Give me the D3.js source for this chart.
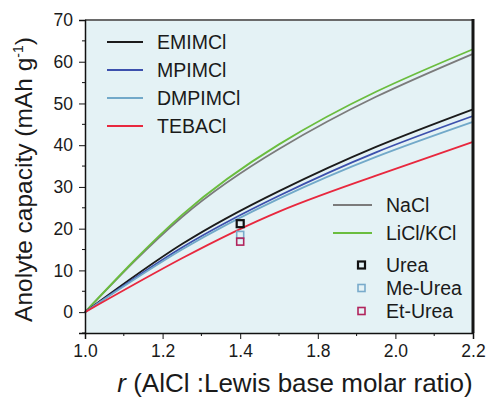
<!DOCTYPE html>
<html>
<head>
<meta charset="utf-8">
<script src="https://cdn.jsdelivr.net/npm/d3@7"></script>
<style>
  body { margin: 0; background: #fff; }
  svg text { font-family: "Liberation Sans", Arial, sans-serif; fill: #1a1a1a; }
</style>
</head>
<body>
<svg id="chart" width="489" height="397"></svg>
<script>
const rValues = [1.0, 1.3, 1.6, 1.9, 2.2];

const emimcl = [0, 16.3, 29.0, 39.6, 48.6];
const mpimcl = [0, 15.5, 27.9, 38.3, 47.0];
const dmpimcl = [0, 15.0, 27.2, 37.2, 45.6];
const tebacl = [0, 12.9, 24.1, 32.7, 40.8];
const nacl = [0, 22.8, 39.1, 51.6, 61.9];
const liclkcl = [0, 23.3, 40.2, 52.8, 63.0];

// single points (urea family), plotted at the "1.4" tick
const pointNames = ['Urea', 'Me-Urea', 'Et-Urea'];
const pointR = [1.48, 1.48, 1.48];
const pointValues = [21.2, 18.5, 16.9];

// tick labels as printed on the original (evenly spaced ticks)
const xTickValues = [1.0, 1.24, 1.48, 1.72, 1.96, 2.2];
const xTickLabels = ['1.0', '1.2', '1.4', '1.8', '2.0', '2.2'];
const yTickValues = [0, 10, 20, 30, 40, 50, 60, 70];

const margin = { left: 85, right: 16, top: 20, bottom: 64 };
const W = 489, H = 397;

const svg = d3.select('#chart');

const x = d3.scaleLinear().domain([1.0, 2.2]).range([margin.left, W - margin.right]);
const y = d3.scaleLinear().domain([-5, 70]).range([H - margin.bottom, margin.top]);

// plot background
svg.append('rect')
  .attr('x', x(1.0)).attr('y', y(70))
  .attr('width', x(2.2) - x(1.0)).attr('height', y(-5) - y(70))
  .attr('fill', '#e4f2f5');

// curves
const series = [
  { name: 'NaCl', values: nacl, color: '#7b7b7b' },
  { name: 'LiCl/KCl', values: liclkcl, color: '#6abd3e' },
  { name: 'EMIMCl', values: emimcl, color: '#1b1b1b' },
  { name: 'MPIMCl', values: mpimcl, color: '#3c50ad' },
  { name: 'DMPIMCl', values: dmpimcl, color: '#72a9c9' },
  { name: 'TEBACl', values: tebacl, color: '#e8283e' }
];

const line = d3.line()
  .x(d => x(d[0]))
  .y(d => y(d[1]))
  .curve(d3.curveNatural);

svg.append('g').selectAll('path')
  .data(series)
  .enter()
  .append('path')
  .attr('d', s => line(rValues.map((r, i) => [r, s.values[i]])))
  .attr('fill', 'none')
  .attr('stroke', s => s.color)
  .attr('stroke-width', 1.8);

// points
const pointColors = ['#111', '#79abcb', '#b1245c'];
const pointWidths = [2.2, 1.6, 1.6];
svg.append('g').selectAll('rect')
  .data(pointNames)
  .enter()
  .append('rect')
  .attr('x', (d, i) => x(pointR[i]) - 3.5)
  .attr('y', (d, i) => y(pointValues[i]) - 3.5)
  .attr('width', 7).attr('height', 7)
  .attr('fill', 'none')
  .attr('stroke', (d, i) => pointColors[i])
  .attr('stroke-width', (d, i) => pointWidths[i]);

// frame: gray top, heavy black right
svg.append('line')
  .attr('x1', x(1.0)).attr('x2', x(2.2))
  .attr('y1', y(70)).attr('y2', y(70))
  .attr('stroke', '#6a6a6a').attr('stroke-width', 2);
svg.append('line')
  .attr('x1', x(2.2)).attr('x2', x(2.2))
  .attr('y1', y(70) - 1).attr('y2', y(-5))
  .attr('stroke', '#151515').attr('stroke-width', 3);

// Y axis
const yAxis = d3.axisLeft(y)
  .tickValues(yTickValues)
  .tickSize(6)
  .tickPadding(6);
const yG = svg.append('g')
  .attr('transform', `translate(${x(1.0)},0)`)
  .call(yAxis);
yG.selectAll('.tick text').style('font-size', '17.5px').attr('font-family', null);
yG.append('g').selectAll('line')
  .data(d3.range(-5, 70, 10))
  .enter()
  .append('line')
  .attr('x1', 0).attr('x2', -3)
  .attr('y1', d => y(d)).attr('y2', d => y(d))
  .attr('stroke', '#111');

// X axis
const xAxis = d3.axisBottom(x)
  .tickValues(xTickValues)
  .tickFormat((d, i) => xTickLabels[i])
  .tickSize(6)
  .tickPadding(6);
const xG = svg.append('g')
  .attr('transform', `translate(0,${y(-5)})`)
  .call(xAxis);
xG.selectAll('.tick text').style('font-size', '17.5px').attr('font-family', null);
xG.append('g').selectAll('line')
  .data(d3.range(5).map(i => (xTickValues[i] + xTickValues[i + 1]) / 2))
  .enter()
  .append('line')
  .attr('x1', d => x(d)).attr('x2', d => x(d))
  .attr('y1', 0).attr('y2', 3)
  .attr('stroke', '#111');

[yG, xG].forEach(g => {
  g.select('.domain').attr('stroke', '#111').attr('stroke-width', 1.5);
  g.selectAll('.tick line').attr('stroke', '#111');
  g.selectAll('.tick text').attr('fill', '#1a1a1a');
});

// axis titles
const yTitle = svg.append('text')
  .attr('transform', `translate(32,${(y(70) + y(-5)) / 2 + 3}) rotate(-90)`)
  .attr('text-anchor', 'middle')
  .style('font-size', '24.5px');
yTitle.append('tspan').text('Anolyte capacity (mAh g');
yTitle.append('tspan').text('-1').attr('dy', -9).style('font-size', '14px');
yTitle.append('tspan').text(')').attr('dy', 9);

const xTitle = svg.append('text')
  .attr('x', 295)
  .attr('y', 392)
  .attr('text-anchor', 'middle')
  .style('font-size', '26px');
xTitle.append('tspan').text('r').style('font-style', 'italic');
xTitle.append('tspan').text(' (AlCl :Lewis base molar ratio)');

// legend 1 (ionic liquids)
const leg1 = series.slice(2);
const leg1G = svg.append('g');
leg1.forEach((s, i) => {
  const ly = 42 + i * 28;
  leg1G.append('line')
    .attr('x1', 107).attr('x2', 143).attr('y1', ly).attr('y2', ly)
    .attr('stroke', s.color).attr('stroke-width', 1.8);
  leg1G.append('text')
    .attr('x', 157).attr('y', ly).attr('dy', '0.36em')
    .style('font-size', '19.5px')
    .text(s.name);
});

// legend 2 (molten salts + ureas)
const leg2G = svg.append('g');
series.slice(0, 2).forEach((s, i) => {
  const ly = 205 + i * 28;
  leg2G.append('line')
    .attr('x1', 333).attr('x2', 372).attr('y1', ly).attr('y2', ly)
    .attr('stroke', s.color).attr('stroke-width', 1.8);
  leg2G.append('text')
    .attr('x', 386).attr('y', ly).attr('dy', '0.36em')
    .style('font-size', '19.5px')
    .text(s.name);
});
pointNames.forEach((n, i) => {
  const ly = 265 + i * 23;
  leg2G.append('rect')
    .attr('x', 358).attr('y', ly - 3.5).attr('width', 7).attr('height', 7)
    .attr('fill', 'none')
    .attr('stroke', pointColors[i]).attr('stroke-width', pointWidths[i]);
  leg2G.append('text')
    .attr('x', 386).attr('y', ly).attr('dy', '0.36em')
    .style('font-size', '19.5px')
    .text(n);
});
</script>
</body>
</html>
